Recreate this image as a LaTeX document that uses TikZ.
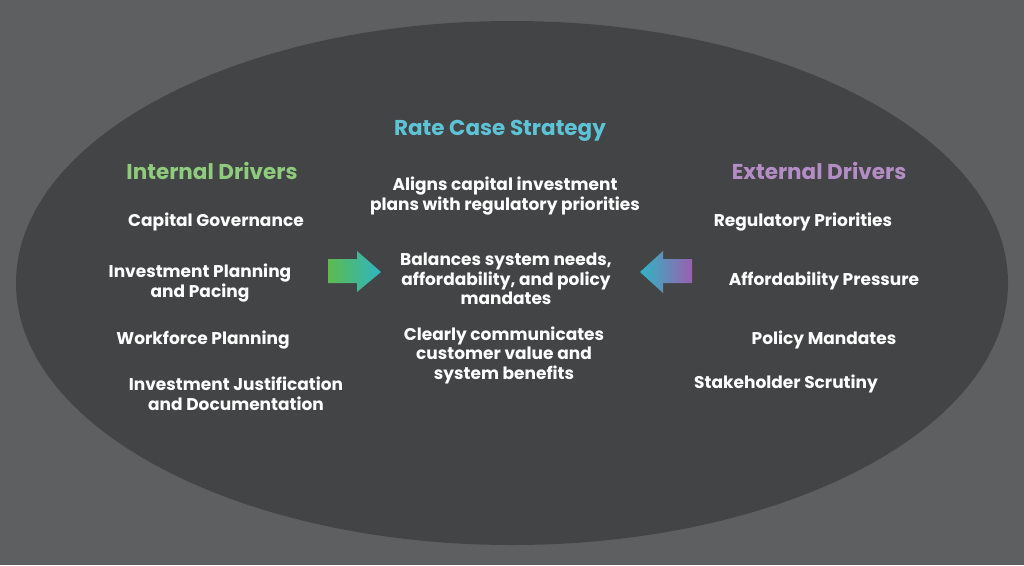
\documentclass[tikz,border=0pt]{standalone}
\usepackage{fontspec}
\setmainfont{Poppins}
\definecolor{fondo}{HTML}{5E5F61}
\definecolor{elipse}{HTML}{434446}
\definecolor{verde}{HTML}{8FCB7C}
\definecolor{morado}{HTML}{B58DC6}
\definecolor{turquesa}{HTML}{5DC3D6}
\definecolor{verdeflecha}{HTML}{5CBB4E}
\definecolor{azulflecha}{HTML}{2FB5C4}
\definecolor{moradoflecha}{HTML}{9B5FB0}
\tikzset{
  titulo/.style={font=\bfseries\fontsize{21.5}{24}\selectfont},
  item/.style={text=white, align=center, font=\bfseries\fontsize{17}{19.5}\selectfont}
}
\begin{document}
\begin{tikzpicture}[x=1pt, y=-1pt]
    \useasboundingbox (0,0) rectangle (1024,565);
    % Fondo y elipse
    \fill[fondo] (0,0) rectangle (1024,565);
    \fill[elipse] (512,283) ellipse [x radius=496, y radius=262];
    % Titulos
    \node[titulo, text=turquesa] (estrategia) at (500,131) {Rate Case Strategy};
    \node[titulo, text=verde] (internos) at (212,171) {Internal Drivers};
    \node[titulo, text=morado] (externos) at (819,171) {External Drivers};
    % Factores internos
    \node[item] (gobierno) at (216,222) {Capital Governance};
    \node[item] (planeacion) at (200,283) {Investment Planning\\and Pacing};
    \node[item] (personal) at (203,340) {Workforce Planning};
    \node[item] (justificacion) at (236,394) {Investment Justification\\and Documentation};
    % Estrategia
    \node[item] (alinea) at (505,196) {Aligns capital investment\\plans with regulatory priorities};
    \node[item] (balancea) at (506,279) {Balances system needs,\\affordability, and policy\\mandates};
    \node[item] (comunica) at (504,355) {Clearly communicates\\customer value and\\system benefits};
    % Factores externos
    \node[item] (prioridades) at (803,222) {Regulatory Priorities};
    \node[item] (asequibilidad) at (824,281) {Affordability Pressure};
    \node[item] (mandatos) at (824,340) {Policy Mandates};
    \node[item] (escrutinio) at (786,384) {Stakeholder Scrutiny};
    % Flechas
    \shade[left color=verdeflecha, right color=azulflecha]
      (328,259) -- (357,259) -- (357,251) -- (381,272) -- (357,292)
      -- (357,283) -- (328,283) -- cycle;
    \shade[left color=azulflecha, right color=moradoflecha]
      (692,259) -- (663,259) -- (663,251) -- (640,272) -- (663,293)
      -- (663,283) -- (692,283) -- cycle;
\end{tikzpicture}
\end{document}
